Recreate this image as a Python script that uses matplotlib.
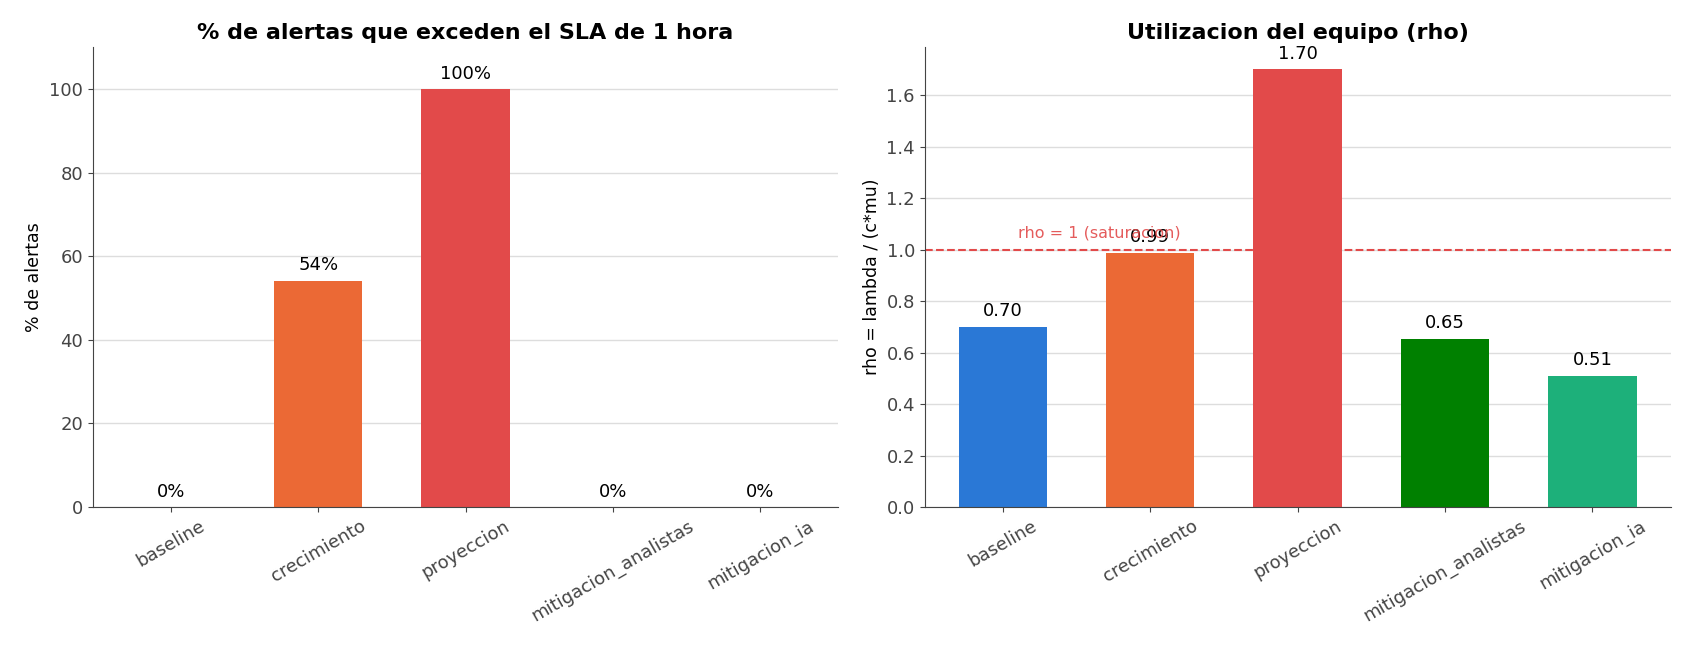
import matplotlib
matplotlib.use("Agg")
import matplotlib.pyplot as plt

escenarios = ["baseline", "crecimiento", "proyeccion", "mitigacion_analistas", "mitigacion_ia"]
pct_sla = [0, 54.2, 100, 0, 0]
rho = [0.70, 0.987, 1.70, 0.653, 0.51]
colores = ["#2a78d6", "#eb6935", "#e24a4a", "#008000", "#1db07a"]

fig, (ax1, ax2) = plt.subplots(1, 2, figsize=(16.9, 6.5), dpi=100)

# % de alertas fuera de SLA
ax1.bar(escenarios, pct_sla, color=colores, width=0.6)
for i, v in enumerate(pct_sla):
    ax1.text(i, v + 1.5, f"{v:.0f}%", ha="center", va="bottom", fontsize=13)
ax1.set_ylim(0, 110)
ax1.set_ylabel("% de alertas", fontsize=12.5)
ax1.set_title("% de alertas que exceden el SLA de 1 hora", fontsize=16, fontweight="bold")

# utilizacion
ax2.bar(escenarios, rho, color=colores, width=0.6)
for i, v in enumerate(rho):
    ax2.text(i, v + 0.025, f"{v:.2f}", ha="center", va="bottom", fontsize=13)
ax2.axhline(1.0, color="#e24a4a", linestyle="--", linewidth=1.5)
ax2.text(0.1, 1.045, "rho = 1 (saturacion)", color="#e24a4a", fontsize=11.5, alpha=0.9)
ax2.set_ylim(0, 1.785)
ax2.set_ylabel("rho = lambda / (c*mu)", fontsize=12.5)
ax2.set_title("Utilizacion del equipo (rho)", fontsize=16, fontweight="bold")

for ax in (ax1, ax2):
    ax.spines["top"].set_visible(False)
    ax.spines["right"].set_visible(False)
    ax.spines["left"].set_color("#444444")
    ax.spines["bottom"].set_color("#444444")
    ax.grid(axis="y", color="#dddddd", linewidth=1)
    ax.set_axisbelow(True)
    ax.tick_params(colors="#444444", labelsize=13)
    plt.setp(ax.get_xticklabels(), rotation=30, ha="center")

plt.subplots_adjust(left=0.0548, right=0.9885, top=0.927, bottom=0.22, wspace=0.1156)
plt.savefig("out.png")
